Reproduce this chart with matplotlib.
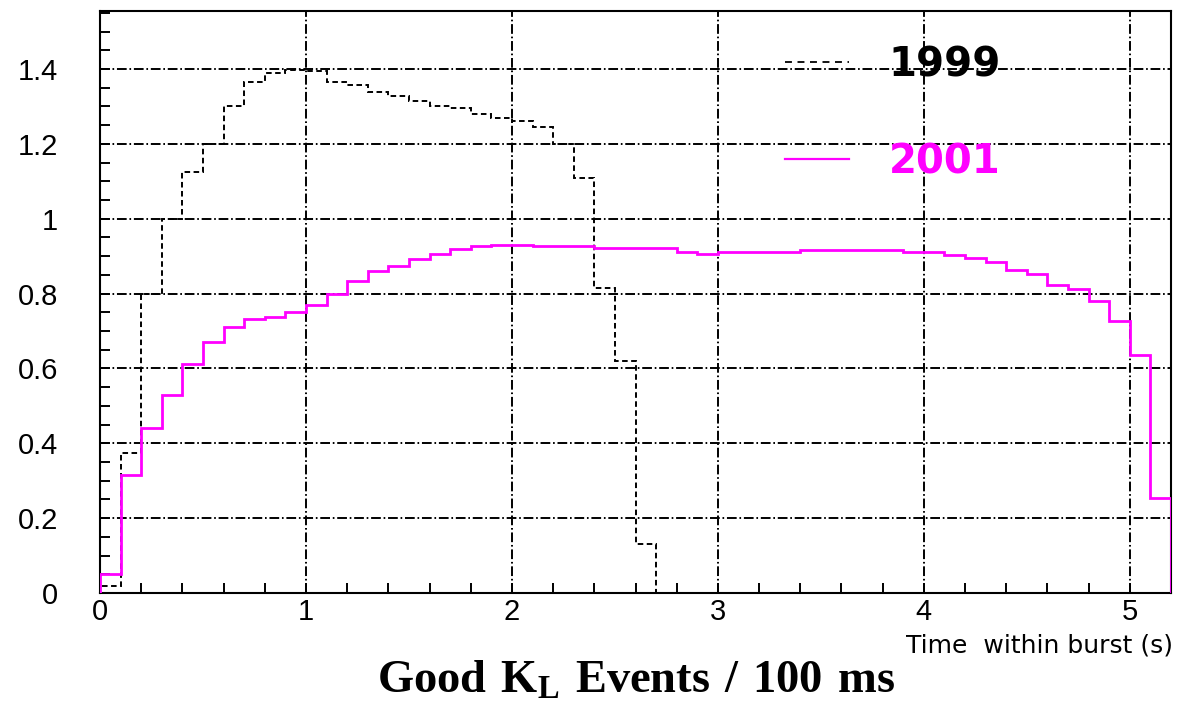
import numpy as np
import matplotlib
matplotlib.use("Agg")
import matplotlib.pyplot as plt
from matplotlib.ticker import MultipleLocator, FuncFormatter
from matplotlib.lines import Line2D

# ---- data ----
bin_width = 0.1
n_bins = 52
edges_all = np.round(np.linspace(0, n_bins * bin_width, n_bins + 1), 2)

vals_1999 = [0.02, 0.375, 0.80, 1.00, 1.125, 1.20, 1.30, 1.365, 1.39, 1.398,
             1.395, 1.365, 1.357, 1.338, 1.327, 1.314, 1.300, 1.295, 1.281, 1.269,
             1.262, 1.245, 1.20, 1.11, 0.815, 0.62, 0.13]

vals_2001 = [0.05, 0.316, 0.44, 0.53, 0.613, 0.671, 0.711, 0.731, 0.738, 0.75,
             0.77, 0.80, 0.833, 0.859, 0.874, 0.893, 0.905, 0.919, 0.926, 0.931,
             0.931, 0.926, 0.926, 0.926, 0.921, 0.921, 0.921, 0.921, 0.912, 0.907,
             0.912, 0.912, 0.912, 0.912, 0.916, 0.916, 0.916, 0.916, 0.916, 0.912,
             0.912, 0.904, 0.896, 0.885, 0.864, 0.851, 0.824, 0.812, 0.779, 0.726,
             0.637, 0.253]

series_labels = ["1999", "2001"]
series_colors = ["black", "#ff00ff"]
xlabel = "Time  within burst (s)"
title = r"$\mathbf{Good\ K_{L}\ Events\ /\ 100\ ms}$"

# ---- style ----
plt.rcParams["lines.scale_dashes"] = False
plt.rcParams["mathtext.fontset"] = "custom"
plt.rcParams["mathtext.bf"] = "Liberation Serif:bold"
plt.rcParams["mathtext.rm"] = "Liberation Serif"

fig = plt.figure(figsize=(11.77, 7.03), dpi=100)
ax = fig.add_axes([100 / 1177, 110 / 703, 1071 / 1177, 582 / 703])

e1999 = edges_all[: len(vals_1999) + 1]
e2001 = edges_all[: len(vals_2001) + 1]

ax.stairs(vals_1999, e1999, baseline=0, color=series_colors[0],
          linewidth=1.4, linestyle=(0, (4, 2.5)), zorder=3)
ax.stairs(vals_2001, e2001, baseline=0, color=series_colors[1],
          linewidth=2.0, zorder=4)

ax.set_xlim(0, 5.2)
ax.set_ylim(0, 1.555)

ax.xaxis.set_major_locator(MultipleLocator(1))
ax.xaxis.set_minor_locator(MultipleLocator(0.2))
ax.yaxis.set_major_locator(MultipleLocator(0.2))
ax.yaxis.set_minor_locator(MultipleLocator(0.05))
ax.yaxis.set_major_formatter(FuncFormatter(lambda v, p: "%g" % round(v, 2)))

ax.tick_params(axis="both", which="both", direction="in", width=1.4,
               length=7.2, top=False, right=False, color="black")
ax.tick_params(axis="x", which="major", pad=3.5)
ax.tick_params(axis="y", which="major", pad=30)
for lab in ax.get_xticklabels() + ax.get_yticklabels():
    lab.set_fontfamily("Liberation Sans")
    lab.set_fontsize(21)

for s in ax.spines.values():
    s.set_linewidth(1.5)
    s.set_color("black")

ax.grid(True, which="major", color="black", linewidth=1.4,
        linestyle=(0, (7, 2, 1.2, 2)), zorder=1)
ax.set_axisbelow(True)

# legend
lh1 = Line2D([], [], color=series_colors[0], linewidth=1.3, linestyle=(0, (5, 4)))
lh2 = Line2D([], [], color=series_colors[1], linewidth=1.6)
leg = ax.legend([lh1, lh2], series_labels, loc="upper left",
                bbox_to_anchor=(0.6396, 0.941), frameon=False,
                prop=dict(family="DejaVu Sans", weight="bold", size=29),
                handlelength=1.6, handletextpad=0.98, labelspacing=1.42,
                borderpad=0, borderaxespad=0)
for t, c in zip(leg.get_texts(), series_colors):
    t.set_color(c)

# axis title (bottom right) and big bottom label
fig.text(1173 / 1177, 1 - 645 / 703, xlabel, ha="right", va="center",
         family="DejaVu Sans", fontsize=18)
fig.text(0.54, 1 - 693 / 703, title, ha="center", va="baseline", fontsize=33.5)

fig.savefig("out.png", dpi=100)
